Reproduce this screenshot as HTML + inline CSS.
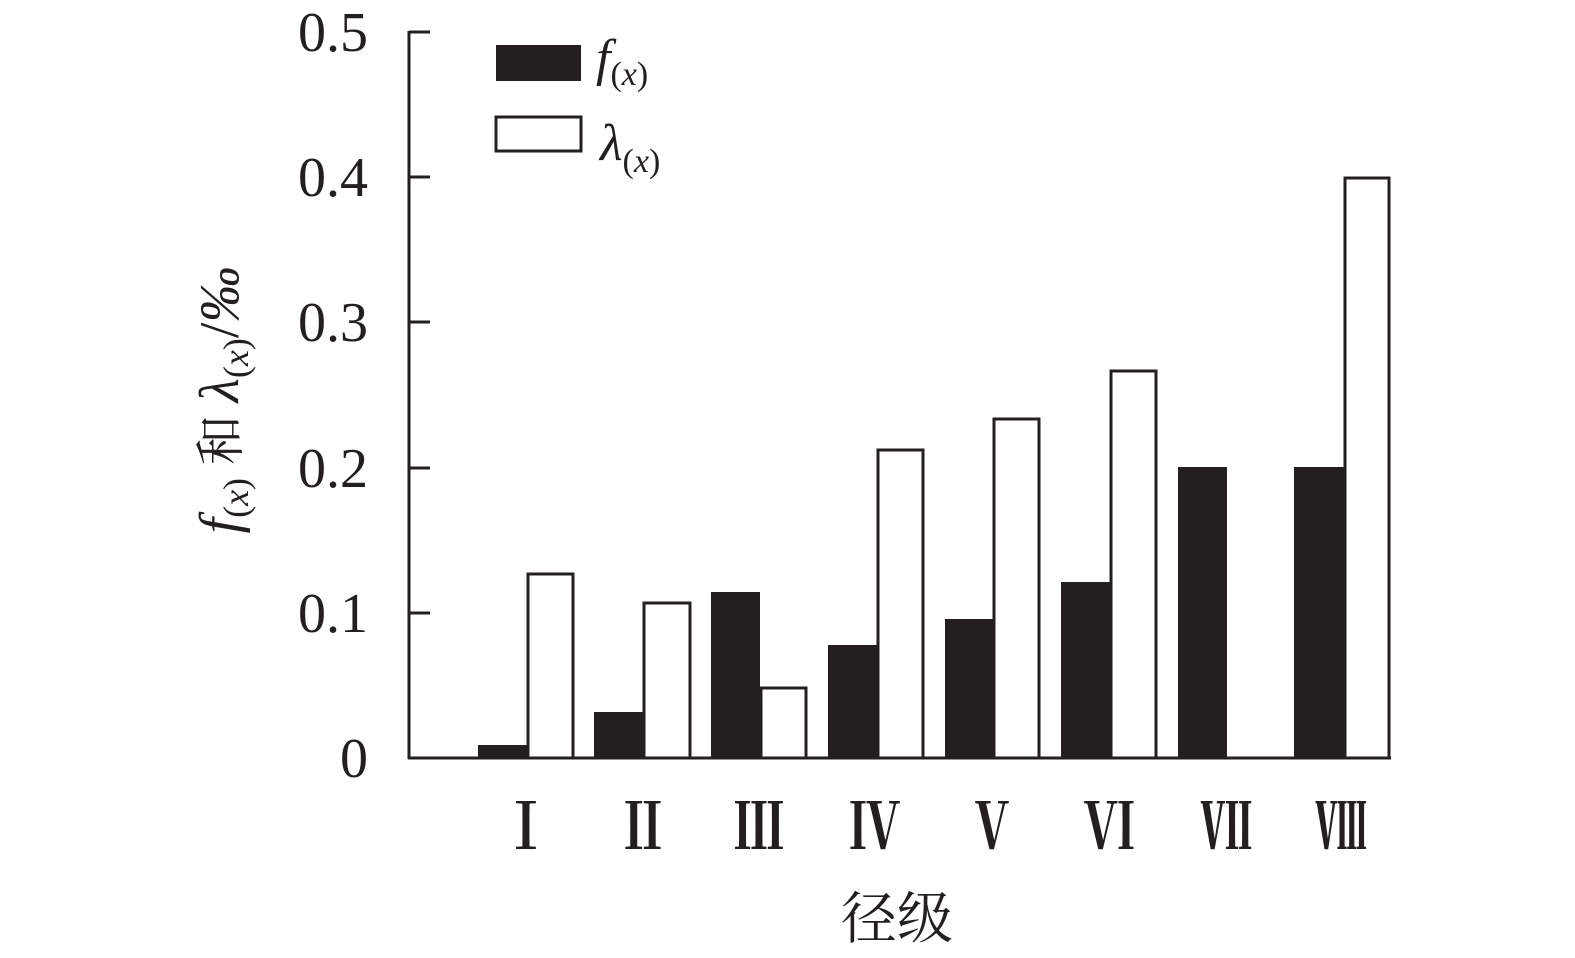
<!DOCTYPE html>
<html><head><meta charset="utf-8"><style>
html,body{margin:0;padding:0;background:#fff;}
</style></head><body>
<svg width="1575" height="953" viewBox="0 0 1575 953" xmlns="http://www.w3.org/2000/svg" font-family="'Liberation Serif','Noto Serif CJK SC',serif">
<g stroke="#231f20" stroke-width="3" fill="none">
<line x1="409" y1="31" x2="409" y2="759"/>
<line x1="408" y1="758" x2="1391" y2="758"/>
<line x1="409" y1="32" x2="430" y2="32"/>
<line x1="409" y1="177" x2="430" y2="177"/>
<line x1="409" y1="322" x2="430" y2="322"/>
<line x1="409" y1="468" x2="430" y2="468"/>
<line x1="409" y1="613" x2="430" y2="613"/>
</g>
<g font-size="56" fill="#231f20" text-anchor="end">
<text x="368" y="51">0.5</text>
<text x="368" y="196">0.4</text>
<text x="368" y="341">0.3</text>
<text x="368" y="487">0.2</text>
<text x="368" y="632">0.1</text>
<text x="368" y="777">0</text>
</g>
<g fill="#231f20">
<rect x="478" y="745" width="49" height="13"/>
<rect x="594" y="712" width="49" height="46"/>
<rect x="711" y="592" width="49" height="166"/>
<rect x="828" y="645" width="49" height="113"/>
<rect x="945" y="619" width="48" height="139"/>
<rect x="1061" y="582" width="49" height="176"/>
<rect x="1178" y="467" width="49" height="291"/>
<rect x="1294" y="467" width="50" height="291"/>
</g>
<g fill="#fff" stroke="#231f20" stroke-width="3">
<rect x="528" y="574" width="45" height="184"/>
<rect x="644" y="603" width="46" height="155"/>
<rect x="761" y="688" width="45" height="70"/>
<rect x="878" y="450" width="45" height="308"/>
<rect x="994" y="419" width="45" height="339"/>
<rect x="1111" y="371" width="45" height="387"/>
<rect x="1345" y="178" width="44" height="580"/>
</g>
<g font-size="64" fill="#231f20" text-anchor="middle" font-weight="bold">
<text transform="translate(526,849) scale(0.8,1)">Ⅰ</text>
<text transform="translate(643,849) scale(0.8,1)">Ⅱ</text>
<text transform="translate(759,849) scale(0.8,1)">Ⅲ</text>
<text transform="translate(875,849) scale(0.8,1)">Ⅳ</text>
<text transform="translate(992,849) scale(0.8,1)">Ⅴ</text>
<text transform="translate(1109,849) scale(0.8,1)">Ⅵ</text>
<text transform="translate(1226,849) scale(0.8,1)">Ⅶ</text>
<text transform="translate(1341,849) scale(0.8,1)">Ⅷ</text>
</g>
<text x="897" y="938" font-size="56" text-anchor="middle" fill="#231f20" font-family="'Noto Serif CJK SC','Noto Sans CJK SC',serif">径级</text>
<rect x="496" y="45" width="85" height="36" fill="#231f20"/>
<rect x="496" y="117" width="85" height="34" fill="#fff" stroke="#231f20" stroke-width="3"/>
<text x="596" y="75" font-size="52" font-style="italic" fill="#231f20">f<tspan font-size="34" dy="10" font-style="normal">(</tspan><tspan font-size="34" font-style="italic">x</tspan><tspan font-size="34" font-style="normal">)</tspan></text>
<text x="600" y="160" font-size="52" font-style="italic" fill="#231f20">λ<tspan font-size="34" dy="12" font-style="normal">(</tspan><tspan font-size="34" font-style="italic">x</tspan><tspan font-size="34" font-style="normal">)</tspan></text>
<g transform="translate(238,400) rotate(-90)">
<text x="0" y="0" text-anchor="middle" font-size="56" fill="#231f20"><tspan font-style="italic">f</tspan><tspan font-size="36" dy="10">(</tspan><tspan font-size="36" font-style="italic">x</tspan><tspan font-size="36">)</tspan><tspan dy="-10" font-family="'Noto Serif CJK SC','Noto Sans CJK SC',serif" font-size="50"> 和 </tspan><tspan font-style="italic">λ</tspan><tspan font-size="36" dy="10">(</tspan><tspan font-size="36" font-style="italic">x</tspan><tspan font-size="36">)</tspan><tspan dy="-10">/</tspan><tspan font-style="italic">‰</tspan></text>
</g>
</svg>
</body></html>
